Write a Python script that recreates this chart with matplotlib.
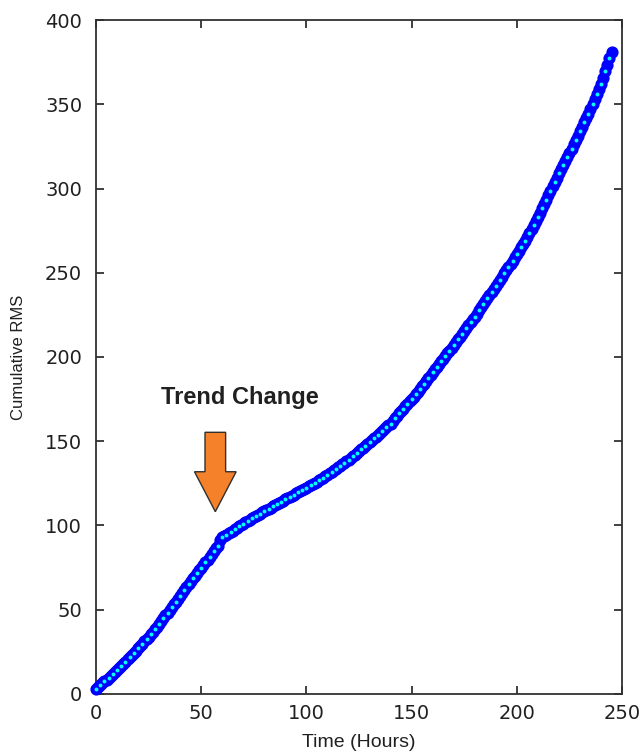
import numpy as np
import matplotlib.pyplot as plt
from matplotlib.patches import FancyArrow

# hourly cumulative RMS readings
hours = np.arange(0, 246)
cum_rms = [
    3.0, 4.1, 5.2, 6.3, 7.4, 8.5, 9.6, 10.7, 11.8, 12.9,
    14.0, 15.3, 16.6, 17.9, 19.2, 20.5, 21.8, 23.1, 24.4, 25.7,
    27.0, 28.4, 29.8, 31.2, 32.6, 34.0, 35.5, 37.0, 38.5, 40.0,
    41.5, 43.2, 44.9, 46.6, 48.3, 50.0, 51.6, 53.2, 54.8, 56.4,
    58.0, 59.8, 61.6, 63.4, 65.2, 67.0, 68.6, 70.2, 71.8, 73.4,
    75.0, 76.6, 78.2, 79.8, 81.4, 83.0, 84.7, 86.4, 88.0, 91.5,
    93.0, 93.8, 94.6, 95.4, 96.2, 97.0, 97.8, 98.6, 99.4, 100.2,
    101.0, 101.8, 102.6, 103.4, 104.2, 105.0, 105.7, 106.4, 107.1, 107.8,
    108.5, 109.2, 109.9, 110.6, 111.3, 112.0, 112.7, 113.4, 114.1, 114.8,
    115.5, 116.2, 116.9, 117.6, 118.3, 119.0, 119.7, 120.4, 121.1, 121.8,
    122.5, 123.2, 123.9, 124.6, 125.3, 126.0, 126.8, 127.6, 128.4, 129.2,
    130.0, 130.9, 131.8, 132.7, 133.6, 134.5, 135.4, 136.3, 137.2, 138.1,
    139.0, 140.0, 141.0, 142.0, 143.0, 144.0, 145.1, 146.2, 147.3, 148.4,
    149.5, 150.6, 151.7, 152.8, 153.9, 155.0, 156.1, 157.2, 158.3, 159.4,
    160.5, 162.0, 163.5, 165.0, 166.5, 168.0, 169.4, 170.8, 172.2, 173.6,
    175.0, 176.5, 178.0, 179.5, 181.0, 182.5, 184.2, 185.9, 187.6, 189.3,
    191.0, 192.6, 194.2, 195.8, 197.4, 199.0, 200.6, 202.2, 203.8, 205.4,
    207.0, 208.7, 210.4, 212.1, 213.8, 215.5, 217.2, 218.9, 220.6, 222.3,
    224.0, 225.8, 227.6, 229.4, 231.2, 233.0, 234.8, 236.6, 238.4, 240.2,
    242.0, 243.9, 245.8, 247.7, 249.6, 251.5, 253.4, 255.3, 257.2, 259.1,
    261.0, 263.0, 265.0, 267.0, 269.0, 271.0, 273.4, 275.8, 278.2, 280.6,
    283.0, 285.6, 288.2, 290.8, 293.4, 296.0, 298.6, 301.2, 303.8, 306.4,
    309.0, 311.4, 313.8, 316.2, 318.6, 321.0, 323.6, 326.2, 328.8, 331.4,
    334.0, 336.6, 339.2, 341.8, 344.4, 347.0, 350.0, 353.0, 356.0, 359.0,
    362.0, 365.8, 369.6, 373.4, 377.2, 381.0,
]

x_ticks = [0, 50, 100, 150, 200, 250]
y_ticks = [0, 50, 100, 150, 200, 250, 300, 350, 400]

fig = plt.figure(figsize=(6.41, 7.53), dpi=100)
ax = fig.add_axes([0.1498, 0.0784, 0.8206, 0.895])

# fitted trend underneath, measurement circles on top (blue ring, cyan centre)
ax.plot(hours, cum_rms, color="#00e000", lw=1.5, zorder=2)
ax.plot(hours, cum_rms, ls="none", marker="o", ms=8.8, mew=0,
        mfc="#0000ff", clip_on=False, zorder=3)
ax.plot(hours, cum_rms, ls="none", marker="o", ms=2.8, mew=0,
        mfc="#00ffff", markevery=2, clip_on=False, zorder=4)

ax.set_xlim(0, 250)
ax.set_ylim(0, 400)
ax.set_xticks(x_ticks)
ax.set_yticks(y_ticks)
ax.tick_params(direction="in", top=True, right=True, length=6, width=1.2,
               labelsize=14, colors="#202020")
ax.tick_params(axis="x", pad=7)
ax.tick_params(axis="y", pad=10)
for s in ax.spines.values():
    s.set_color("#303030")
    s.set_linewidth(1.3)

ax.set_xlabel("Time (Hours)", family=["Liberation Sans", "DejaVu Sans"],
              fontsize=14, color="#202020", labelpad=8)
ax.set_ylabel("Cumulative RMS", family=["Liberation Sans Narrow", "Liberation Sans"],
              fontsize=12, color="#202020", labelpad=14)

# annotation: arrow pointing at the kink
arrow = FancyArrow(56.7, 155.3, 0, -47.1, width=9.8, head_width=19.8,
                   head_length=23.7, length_includes_head=True,
                   fc="#f5812a", ec="#303030", lw=1.0, zorder=5)
ax.add_patch(arrow)
title = ax.text(68.5, 175.7, "Trend Change", ha="center", va="center",
                family=["Liberation Sans Narrow", "Liberation Sans"],
                fontweight="bold", fontsize=17, color="#202020")
title.set_fontstretch("condensed")

fig.savefig("out.png", dpi=100)
